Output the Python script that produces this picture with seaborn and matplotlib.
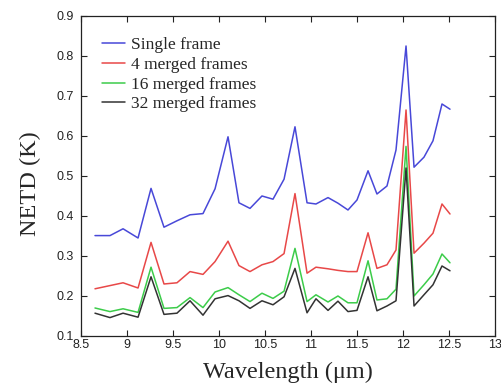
import numpy as np
import pandas as pd
import matplotlib
matplotlib.use("Agg")
import matplotlib.pyplot as plt
import seaborn as sns

wavelength = [8.652, 8.815, 8.957, 9.120, 9.261, 9.402, 9.543, 9.685, 9.826, 9.957,
              10.098, 10.217, 10.337, 10.467, 10.587, 10.707, 10.826, 10.957, 11.054,
              11.185, 11.293, 11.402, 11.500, 11.620, 11.717, 11.826, 11.924, 12.033,
              12.120, 12.228, 12.326, 12.424, 12.511]

single_frame = [0.351, 0.351, 0.368, 0.345, 0.469, 0.372, 0.388, 0.403, 0.406, 0.468,
                0.598, 0.433, 0.419, 0.450, 0.442, 0.492, 0.623, 0.433, 0.430, 0.446,
                0.432, 0.415, 0.440, 0.513, 0.455, 0.475, 0.565, 0.825, 0.522, 0.547,
                0.588, 0.680, 0.667]

merged_4 = [0.218, 0.226, 0.233, 0.220, 0.334, 0.230, 0.233, 0.261, 0.254, 0.286,
            0.337, 0.276, 0.261, 0.278, 0.286, 0.306, 0.456, 0.257, 0.272, 0.268,
            0.264, 0.261, 0.261, 0.358, 0.269, 0.278, 0.315, 0.665, 0.307, 0.332,
            0.357, 0.430, 0.405]

merged_16 = [0.170, 0.161, 0.168, 0.159, 0.272, 0.169, 0.171, 0.196, 0.171, 0.210,
             0.221, 0.203, 0.186, 0.207, 0.194, 0.212, 0.319, 0.186, 0.203, 0.185,
             0.200, 0.183, 0.183, 0.288, 0.190, 0.193, 0.217, 0.574, 0.200, 0.228,
             0.255, 0.305, 0.283]

merged_32 = [0.157, 0.146, 0.157, 0.147, 0.248, 0.154, 0.157, 0.188, 0.152, 0.193,
             0.201, 0.188, 0.169, 0.188, 0.178, 0.198, 0.269, 0.158, 0.193, 0.164,
             0.187, 0.161, 0.164, 0.248, 0.163, 0.175, 0.188, 0.520, 0.175, 0.203,
             0.228, 0.275, 0.263]

series_names = ["Single frame", "4 merged frames", "16 merged frames", "32 merged frames"]
x_ticks = [8.5, 9, 9.5, 10, 10.5, 11, 11.5, 12, 12.5, 13]
x_tick_labels = ["8.5", "9", "9.5", "10", "10.5", "11", "11.5", "12", "12.5", "13"]
y_ticks = [0.1, 0.2, 0.3, 0.4, 0.5, 0.6, 0.7, 0.8, 0.9]

df = pd.DataFrame({
    "wavelength": wavelength * 4,
    "netd": single_frame + merged_4 + merged_16 + merged_32,
    "series": sum([[n] * len(wavelength) for n in series_names], []),
})

sns.set_theme(style="ticks")
plt.rcParams.update({
    "xtick.direction": "in", "ytick.direction": "in",
    "xtick.top": True, "ytick.right": True,
    "axes.linewidth": 0.9,
})

palette = {
    "Single frame": "#4848d8",
    "4 merged frames": "#e84848",
    "16 merged frames": "#3ccc4a",
    "32 merged frames": "#333333",
}

fig = plt.figure(figsize=(5.01, 3.91), dpi=100)
ax = fig.add_axes([0.1617, 0.1407, 0.8263, 0.8184])

sns.lineplot(data=df, x="wavelength", y="netd", hue="series", hue_order=series_names,
             palette=palette, linewidth=1.1, ax=ax, legend=True, sort=False)

ax.set_xlim(8.5, 13)
ax.set_ylim(0.1, 0.9)
ax.set_xticks(x_ticks)
ax.set_xticklabels(x_tick_labels)
ax.set_yticks(y_ticks)
ax.set_yticklabels([f"{v:.1f}" for v in y_ticks])
ax.tick_params(axis="both", length=4, width=0.8, labelsize=9, colors="#222222")
ax.tick_params(axis="x", pad=2)
ax.tick_params(axis="y", pad=5)
for lab in ax.get_xticklabels() + ax.get_yticklabels():
    lab.set_family("Liberation Sans")
for sp in ax.spines.values():
    sp.set_color("#222222")

ax.set_xlabel("Wavelength (\u03bcm)", family="Liberation Serif", fontsize=17.5, labelpad=8)
ax.set_ylabel("NETD (K)", family="Liberation Serif", fontsize=17.5, labelpad=11)
ax.yaxis.set_label_coords(-0.097, 0.475)

leg = ax.legend(loc="upper left", bbox_to_anchor=(0.035, 0.955), frameon=False,
                prop={"family": "Liberation Serif", "size": 12.5},
                handlelength=1.3, handletextpad=0.35, labelspacing=0.2, borderaxespad=0)

fig.savefig("out.png", dpi=100, facecolor="white")
